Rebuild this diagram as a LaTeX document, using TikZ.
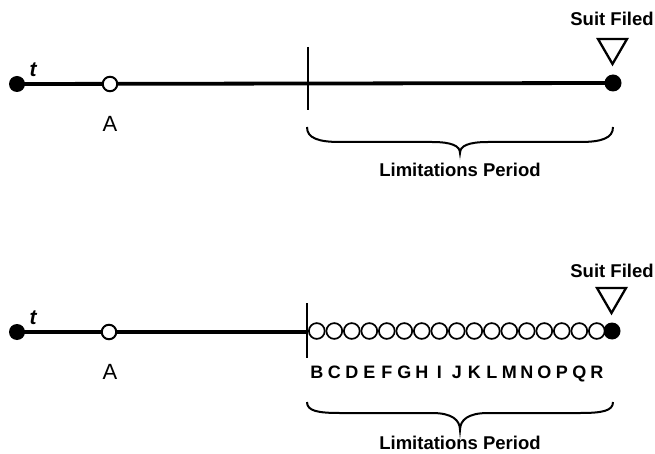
\documentclass[tikz,border=0pt]{standalone}
\usepackage{fontspec}
\setmainfont{Liberation Sans}
\usetikzlibrary{backgrounds}
\begin{document}
\begin{tikzpicture}[x=1pt,y=-1pt,
  axis/.style={line width=3.8pt},
  tickline/.style={line width=1.7pt},
  bracepath/.style={line width=2pt},
  tri/.style={line width=2.3pt,line join=miter},
  blackdot/.style={circle,fill=black,inner sep=0pt,minimum size=16pt},
  opendot/.style={circle,draw=black,fill=white,line width=2pt,inner sep=0pt,minimum size=14.5pt},
  chaindot/.style={circle,draw=black,fill=white,line width=1.7pt,inner sep=0pt,minimum size=15.8pt},
  boldlbl/.style={font=\bfseries\fontsize{18.5}{21}\selectfont,inner sep=0pt},
  letterlbl/.style={font=\bfseries\fontsize{18}{20}\selectfont,inner sep=0pt,anchor=base},
  alabel/.style={font=\fontsize{22}{25}\selectfont,inner sep=0pt},
  tlabel/.style={font=\bfseries\itshape\fontsize{21}{23}\selectfont,inner sep=0pt}
]
\useasboundingbox (0,0) rectangle (655,454);

% ---------- top timeline ----------
\node[blackdot] (s1) at (17,84) {};
\node[blackdot,minimum size=17pt] (e1) at (613,83) {};
\coordinate (k1a) at (308,47);
\coordinate (k1b) at (308,110);
\begin{scope}[on background layer]
  \draw[axis] (s1.center) -- (e1.center);
\end{scope}
\draw[tickline] (k1a) -- (k1b);
\node[opendot] (a1) at (110,84) {};
\node[alabel] (A1) at (110,124) {A};
\node[tlabel] (t1) at (33,70) {t};
\node[boldlbl] (sf1) at (612,19) {Suit Filed};
\draw[tri] (598,39) -- (627,39) -- (612.5,64) -- cycle;
\draw[bracepath] (307,127) .. controls (307,138) and (318,142) .. (340,142)
  -- (432,142) .. controls (452,142) and (460,146) .. (460,153)
  .. controls (460,146) and (468,142) .. (488,142)
  -- (580,142) .. controls (602,142) and (613,138) .. (613,127);
\node[boldlbl] (lp1) at (460,170) {Limitations Period};

% ---------- bottom timeline ----------
\node[blackdot] (s2) at (17,332) {};
\node[blackdot,minimum size=17pt] (e2) at (612,331) {};
\coordinate (k2a) at (307,303);
\coordinate (k2b) at (307,358);
\coordinate (k2m) at (307,332);
\begin{scope}[on background layer]
  \draw[axis] (s2.center) -- (k2m);
\end{scope}
\draw[tickline] (k2a) -- (k2b);
\node[opendot] (a2) at (109,332) {};
\node[alabel] (A2) at (110,372) {A};
\node[tlabel] (t2) at (33,318) {t};
\foreach \l [count=\i] in {B,C,D,E,F,G,H,I,J,K,L,M,N,O,P,Q,R} {
  \node[chaindot] (c\i) at ({316.8+17.5*(\i-1)},331) {};
  \node[letterlbl] (L\i) at ({316.8+17.5*(\i-1)},378.5) {\l};
}
\node[boldlbl] (sf2) at (612,271) {Suit Filed};
\draw[tri] (597,288) -- (626,288) -- (611.5,313) -- cycle;
\draw[bracepath] (307,402) .. controls (307,411) and (318,413) .. (340,413)
  -- (432,413) .. controls (452,413) and (460,420) .. (460,430)
  .. controls (460,420) and (468,413) .. (488,413)
  -- (580,413) .. controls (602,413) and (613,411) .. (613,402);
\node[boldlbl] (lp2) at (460,443) {Limitations Period};
\end{tikzpicture}
\end{document}
